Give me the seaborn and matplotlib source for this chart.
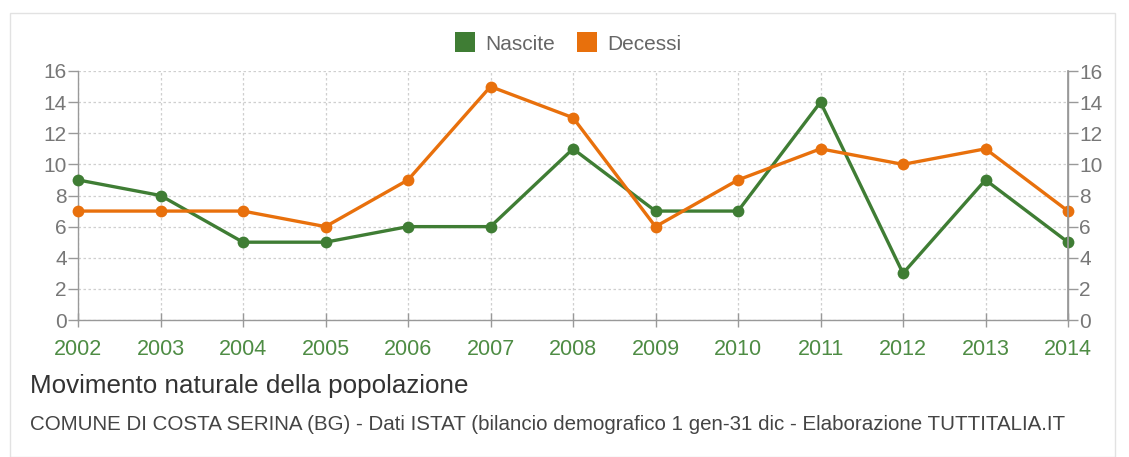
import matplotlib
matplotlib.use("Agg")
import matplotlib.pyplot as plt
import seaborn as sns
import pandas as pd
from matplotlib.patches import Rectangle
from matplotlib.lines import Line2D

years = [2002, 2003, 2004, 2005, 2006, 2007, 2008, 2009, 2010, 2011, 2012, 2013, 2014]
nascite = [9, 8, 5, 5, 6, 6, 11, 7, 7, 14, 3, 9, 5]
decessi = [7, 7, 7, 6, 9, 15, 13, 6, 9, 11, 10, 11, 7]
series_names = ["Nascite", "Decessi"]
yticks = [0, 2, 4, 6, 8, 10, 12, 14, 16]
title = "Movimento naturale della popolazione"
subtitle = "COMUNE DI COSTA SERINA (BG) - Dati ISTAT (bilancio demografico 1 gen-31 dic - Elaborazione TUTTITALIA.IT"

GREEN = "#3f7d34"
ORANGE = "#e8700c"
TICKGREEN = "#4e8c44"
GRAY = "#777777"

sns.set_theme(style="white")
plt.rcParams['font.family'] = ['Liberation Sans', 'DejaVu Sans']

df = pd.DataFrame({
    "Anno": years * 2,
    "Valore": nascite + decessi,
    "Serie": [series_names[0]] * len(years) + [series_names[1]] * len(years),
})

fig = plt.figure(figsize=(11.29, 4.57), dpi=100)
fig.patch.set_facecolor("white")
fig.patches.append(Rectangle((10 / 1129, 0.0), 1105 / 1129, 1 - 13 / 457,
                             transform=fig.transFigure, fill=False,
                             edgecolor="#e2e2e2", linewidth=1.0))

ax = fig.add_axes([78 / 1129, 1 - 320 / 457, (1068 - 78) / 1129, (320 - 71) / 457])
sns.lineplot(data=df, x="Anno", y="Valore", hue="Serie",
             palette={series_names[0]: GREEN, series_names[1]: ORANGE},
             marker="o", markersize=8.5, markeredgewidth=0, linewidth=2.4,
             legend=False, ax=ax, zorder=3)
for ln in ax.lines:
    ln.set_clip_on(False)

ax.set_xlim(years[0], years[-1])
ax.set_ylim(0, 16)
ax.set_xticks(years)
ax.set_xticklabels([str(y) for y in years])
ax.set_yticks(yticks)
ax.set_xlabel("")
ax.set_ylabel("")
ax.grid(True, linestyle=(0, (2, 2)), color="#cfcfcf", linewidth=0.9)
for s in ["top"]:
    ax.spines[s].set_visible(False)
for s in ["left", "bottom", "right"]:
    ax.spines[s].set_color("#999999")
    ax.spines[s].set_linewidth(1.0)

ax.tick_params(axis="x", colors="#999999", labelcolor=TICKGREEN, labelsize=15.5,
               length=10, width=1.0, direction="inout", bottom=True, pad=9)
ax.tick_params(axis="y", colors="#999999", labelcolor=GRAY, labelsize=15,
               length=7, width=1.0, direction="out", left=True, pad=1)

ax2 = ax.twinx()
ax2.set_ylim(0, 16)
ax2.set_yticks(yticks)
for s in ["top", "left", "bottom"]:
    ax2.spines[s].set_visible(False)
ax2.spines["right"].set_color("#999999")
ax2.tick_params(axis="y", colors="#999999", labelcolor=GRAY, labelsize=15,
                length=7, width=1.0, direction="out", right=True, pad=1)
ax2.grid(False)

handles = [Line2D([], [], marker="s", linestyle="none", markersize=15,
                  markerfacecolor=GREEN, markeredgewidth=0),
           Line2D([], [], marker="s", linestyle="none", markersize=15,
                  markerfacecolor=ORANGE, markeredgewidth=0)]
fig.legend(handles, series_names, loc="center", bbox_to_anchor=(568 / 1129, 1 - 44 / 457),
           ncol=2, frameon=False, fontsize=15, labelcolor="#666666",
           handlelength=1.0, handletextpad=0.5, columnspacing=1.0)

fig.text(30 / 1129, 1 - 386 / 457, title, fontsize=18.7, color="#333333",
         ha="left", va="center")
fig.text(30 / 1129, 1 - 425 / 457, subtitle, fontsize=14.8, color="#444444",
         ha="left", va="center")

fig.savefig("out.png", dpi=100, facecolor="white")
